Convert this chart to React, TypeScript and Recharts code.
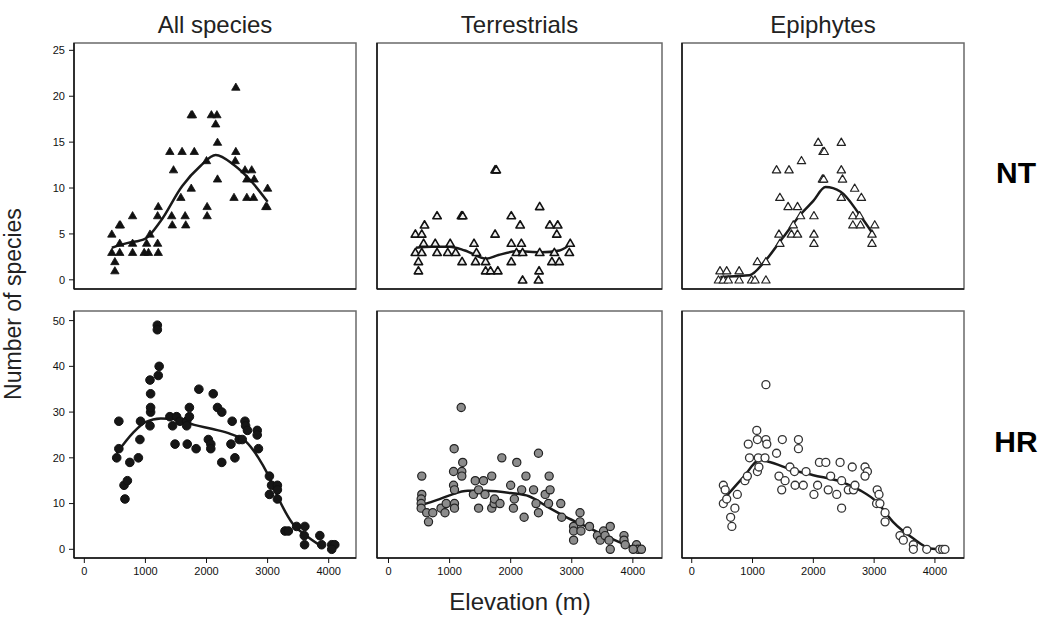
import React from "react";
import { ComposedChart, Scatter, Line, XAxis, YAxis, ReferenceArea } from "recharts";

type Pt = [number, number];

const FONT = "'Liberation Sans', Arial, sans-serif";

const COLUMNS = ["All species", "Terrestrials", "Epiphytes"];
const ROWS = ["NT", "HR"];
const ELEV_TICKS = [0, 1000, 2000, 3000, 4000];
const NT_TICKS = [0, 5, 10, 15, 20, 25];
const HR_TICKS = [0, 10, 20, 30, 40, 50];

// NT (top row) — elevation (m), number of species
const ntAll: Pt[] = [
  [450, 5], [450, 3], [580, 3], [500, 2], [500, 1], [575, 6], [590, 6], [580, 4],
  [790, 7], [790, 4], [790, 3], [980, 3], [1050, 3], [1020, 4], [1075, 5],
  [1210, 8], [1200, 7], [1200, 4], [1210, 3], [1400, 14], [1460, 12], [1430, 7], [1440, 6],
  [1600, 14], [1580, 9], [1650, 7], [1660, 6], [1750, 18], [1770, 18], [1800, 14], [1750, 10],
  [2000, 13], [2010, 8], [2010, 7], [2080, 18], [2170, 18], [2150, 17], [2180, 15], [2180, 11],
  [2480, 21], [2480, 14], [2470, 13], [2450, 9], [2630, 12], [2740, 12], [2660, 11], [2780, 11],
  [2660, 9], [2770, 9], [3000, 10], [2970, 8], [2990, 8],
];
const ntAllFit: Pt[] = [
  [450, 3.5], [700, 4.0], [1000, 4.5], [1250, 6.4], [1600, 10.2], [1900, 12.4],
  [2150, 13.6], [2450, 12.5], [2750, 10.6], [3000, 8.5],
];

const ntTerr: Pt[] = [
  [440, 5], [545, 5], [590, 6], [795, 7], [1195, 7], [1215, 7], [440, 3], [545, 3], [575, 4],
  [765, 4], [795, 3], [490, 2], [490, 1], [1010, 4], [970, 3], [1100, 3], [1205, 2], [1400, 4],
  [1440, 3], [1425, 2], [1590, 1], [1670, 1], [1790, 1], [1590, 2], [1745, 12], [1765, 12],
  [1745, 5], [2010, 7], [2155, 6], [2010, 4], [2175, 4], [2095, 3], [2195, 3], [2010, 2],
  [2195, 0], [2475, 8], [2475, 3], [2465, 1], [2455, 0], [2640, 6], [2770, 6], [2755, 5],
  [2675, 2], [2795, 2], [2715, 3], [2960, 3], [2975, 4],
];
const ntTerrFit: Pt[] = [
  [450, 3.5], [700, 3.6], [1000, 3.6], [1250, 3.2], [1600, 2.3], [1800, 2.7],
  [2100, 3.1], [2500, 3.0], [2800, 3.2], [3000, 4.0],
];

const ntEpi: Pt[] = [
  [465, 1], [575, 1], [780, 1], [440, 0], [520, 0], [600, 0], [780, 0], [985, 0], [1040, 0],
  [1220, 0], [1080, 2], [1220, 2], [1450, 4], [1435, 5], [1670, 6], [1640, 5], [1740, 5],
  [1790, 7], [1585, 8], [1740, 8], [1450, 9], [1395, 12], [1600, 12], [1805, 13], [2010, 7],
  [2010, 5], [2010, 4], [2080, 15], [2160, 14], [2180, 14], [2150, 11], [2170, 11], [2460, 15],
  [2460, 12], [2480, 11], [2460, 9], [2680, 10], [2790, 9], [2650, 7], [2760, 7], [2650, 6],
  [2775, 6], [3010, 6], [2965, 5], [2965, 4],
];
const ntEpiFit: Pt[] = [
  [470, 0.3], [700, 0.4], [950, 0.5], [1200, 2.0], [1500, 4.6], [1800, 7.2],
  [2000, 8.6], [2200, 10.1], [2450, 9.6], [2750, 7.2], [3000, 4.8],
];

// HR (bottom row)
const hrAll: Pt[] = [
  [530, 20], [565, 22], [565, 28], [650, 14], [705, 15], [665, 11], [745, 19], [885, 20],
  [910, 24], [920, 28], [1075, 27], [1085, 30], [1085, 31], [1085, 34], [1075, 37], [1195, 49],
  [1195, 48], [1225, 40], [1210, 38], [1400, 29], [1445, 27], [1485, 23], [1510, 29], [1565, 28],
  [1675, 28], [1675, 27], [1720, 31], [1720, 29], [1685, 23], [1830, 22], [1875, 35], [2030, 24],
  [2070, 23], [2070, 22], [2110, 34], [2180, 31], [2250, 30], [2250, 19], [2420, 28], [2400, 23],
  [2465, 20], [2535, 24], [2630, 28], [2640, 27], [2670, 26], [2585, 24], [2830, 26], [2830, 25],
  [2850, 22], [3030, 16], [3030, 12], [3065, 14], [3160, 14], [3160, 13], [3160, 11], [3285, 4],
  [3340, 4], [3475, 5], [3610, 5], [3600, 3], [3605, 1], [3855, 3], [3885, 1], [4050, 1],
  [4100, 1], [4050, 0],
];
const hrAllFit: Pt[] = [
  [530, 21], [800, 25.5], [1000, 27.8], [1250, 28.6], [1500, 28.5], [1800, 27.2],
  [2100, 26.3], [2400, 25.2], [2650, 23.5], [2850, 20], [3000, 16.5], [3200, 10.5],
  [3400, 5.8], [3650, 2.8], [3900, 0.5],
];

const hrTerr: Pt[] = [
  [545, 16], [545, 12], [535, 11], [535, 10], [535, 9], [625, 8], [655, 6], [725, 8], [860, 9],
  [925, 8], [945, 10], [1075, 22], [1065, 17], [1065, 14], [1080, 13], [1080, 10], [1080, 9],
  [1190, 31], [1215, 19], [1200, 17], [1200, 16], [1420, 15], [1555, 15], [1390, 12], [1475, 13],
  [1475, 9], [1580, 12], [1690, 16], [1690, 9], [1730, 10], [1735, 11], [1825, 10], [1855, 20],
  [2000, 14], [2045, 9], [2060, 11], [2100, 19], [2180, 13], [2220, 7], [2250, 16], [2375, 13],
  [2415, 10], [2455, 21], [2455, 8], [2565, 12], [2630, 16], [2645, 13], [2620, 10], [2820, 10],
  [2835, 7], [3030, 5], [3030, 4], [3030, 2], [3135, 8], [3135, 6], [3150, 4], [3290, 5],
  [3420, 3], [3465, 2], [3520, 4], [3545, 3], [3630, 5], [3610, 2], [3630, 0], [3855, 3],
  [3855, 2], [3875, 1], [4060, 1], [4085, 0], [4140, 0], [4005, 0],
];
const hrTerrFit: Pt[] = [
  [545, 9.7], [800, 10.8], [1000, 11.8], [1300, 12.8], [1600, 12.8], [2000, 12.3],
  [2300, 11.6], [2600, 9.3], [2900, 7.1], [3250, 4.9], [3570, 2.8], [3900, 0.9], [4120, 0],
];

const hrEpi: Pt[] = [
  [520, 14], [550, 13], [520, 10], [575, 11], [640, 7], [660, 5], [750, 12], [710, 9], [875, 15],
  [915, 16], [930, 23], [950, 20], [1070, 26], [1080, 24], [1080, 17], [1095, 20], [1105, 18],
  [1220, 36], [1220, 24], [1235, 23], [1205, 20], [1395, 21], [1435, 16], [1490, 24], [1535, 15],
  [1480, 13], [1615, 18], [1690, 17], [1700, 14], [1755, 24], [1755, 22], [1835, 14], [1880, 17],
  [2010, 12], [2070, 14], [2100, 19], [2205, 19], [2245, 13], [2285, 16], [2385, 12], [2440, 19],
  [2465, 15], [2465, 9], [2575, 13], [2640, 18], [2660, 13], [2685, 14], [2850, 18], [2890, 17],
  [2850, 16], [3050, 13], [3080, 12], [3040, 10], [3095, 10], [3180, 8], [3180, 6], [3425, 3],
  [3480, 2], [3545, 4], [3645, 1], [3645, 0], [3865, 0], [4080, 0], [4125, 0], [4165, 0],
];
const hrEpiFit: Pt[] = [
  [490, 10.4], [850, 15.8], [1120, 19.5], [1250, 19.2], [1670, 17.3], [2000, 16.2],
  [2470, 14.7], [2770, 12.9], [3040, 10.4], [3310, 6.0], [3640, 2.4], [3920, 0.2], [4140, 0],
];

// frame edges in page pixels, and matching axis domains
const COL_FRAMES = [[74, 356], [377, 662], [682, 964]];
const ROW_FRAMES = [[43, 289], [311, 558]];
const X_DOMAINS: [number, number][] = [[-169, 4447], [-188, 4477], [-160, 4478]];
const Y_DOMAINS: [number, number][] = [[-1, 25.8], [-1.9, 52.1]];

const toXY = (pts: Pt[]) => pts.map(([x, y]) => ({ x, y }));

const triangle = (fill: string, stroke: string, sw: number) => (p: any) => {
  const { cx, cy } = p;
  if (cx == null || cy == null) return <g />;
  return (
    <polygon
      points={`${cx},${cy - 4} ${cx + 4.2},${cy + 3.2} ${cx - 4.2},${cy + 3.2}`}
      fill={fill}
      stroke={stroke}
      strokeWidth={sw}
      strokeLinejoin="round"
    />
  );
};

const dot = (fill: string, stroke: string, sw: number, r: number) => (p: any) => {
  const { cx, cy } = p;
  if (cx == null || cy == null) return <g />;
  return <circle cx={cx} cy={cy} r={r} fill={fill} stroke={stroke} strokeWidth={sw} />;
};

const PANELS = [
  { row: 0, col: 0, pts: ntAll, fit: ntAllFit, shape: triangle("#111", "#111", 0.8) },
  { row: 0, col: 1, pts: ntTerr, fit: ntTerrFit, shape: triangle("#eee", "#111", 1.6) },
  { row: 0, col: 2, pts: ntEpi, fit: ntEpiFit, shape: triangle("#fff", "#222", 1.2) },
  { row: 1, col: 0, pts: hrAll, fit: hrAllFit, shape: dot("#161616", "#111", 1, 4.3) },
  { row: 1, col: 1, pts: hrTerr, fit: hrTerrFit, shape: dot("#8c8c8c", "#222", 1.2, 4.1) },
  { row: 1, col: 2, pts: hrEpi, fit: hrEpiFit, shape: dot("#fff", "#333", 1.3, 4) },
];

function Panel({ row, col, pts, fit, shape }: any) {
  const [fx0, fx1] = COL_FRAMES[col];
  const [fy0, fy1] = ROW_FRAMES[row];
  const xd = X_DOMAINS[col];
  const yd = Y_DOMAINS[row];
  const tickStyle = { fontSize: 11, fill: "#111", fontFamily: FONT };
  return (
    <div style={{ position: "absolute", left: fx0 - 50, top: fy0 - 6 }}>
      <ComposedChart
        width={fx1 - fx0 + 56}
        height={fy1 - fy0 + 36}
        margin={{ top: 6, right: 6, left: 0, bottom: 0 }}
      >
        <ReferenceArea
          x1={xd[0]}
          x2={xd[1]}
          y1={yd[0]}
          y2={yd[1]}
          fill="none"
          stroke="#6a6a6a"
          strokeWidth={1.5}
          ifOverflow="visible"
        />
        <XAxis
          type="number"
          dataKey="x"
          domain={xd}
          allowDataOverflow
          ticks={ELEV_TICKS}
          interval={0}
          height={30}
          tick={row === 1 ? tickStyle : false}
          tickSize={5}
          tickMargin={4}
          axisLine={{ stroke: "#111", strokeWidth: 1.5 }}
          tickLine={{ stroke: "#111" }}
        />
        <YAxis
          type="number"
          dataKey="y"
          domain={yd}
          allowDataOverflow
          ticks={row === 0 ? NT_TICKS : HR_TICKS}
          interval={0}
          width={50}
          tick={col === 0 ? tickStyle : false}
          tickSize={5}
          tickMargin={4}
          axisLine={{ stroke: "#111", strokeWidth: 1.5 }}
          tickLine={{ stroke: "#111" }}
        />
        <Scatter data={toXY(pts)} shape={shape} isAnimationActive={false} />
        <Line
          data={toXY(fit)}
          dataKey="y"
          type="monotone"
          stroke="#1a1a1a"
          strokeWidth={2.5}
          dot={false}
          activeDot={false}
          isAnimationActive={false}
        />
      </ComposedChart>
    </div>
  );
}

export default function App() {
  return (
    <div style={{ position: "absolute", left: 0, top: 0, width: 1040, height: 617, background: "#fff", fontFamily: FONT }}>
      {PANELS.map((p) => (
        <Panel key={`${p.row}-${p.col}`} {...p} />
      ))}
      <svg width={1040} height={617} style={{ position: "absolute", left: 0, top: 0, pointerEvents: "none" }}>
        {COLUMNS.map((t, i) => (
          <text
            key={t}
            x={(COL_FRAMES[i][0] + COL_FRAMES[i][1]) / 2}
            y={33}
            textAnchor="middle"
            fontSize={24}
            fill="#222"
            fontFamily={FONT}
          >
            {t}
          </text>
        ))}
        {ROWS.map((t, i) => (
          <text key={t} x={1016} y={i === 0 ? 183 : 452} textAnchor="middle" fontSize={30} fontWeight="bold" fill="#000" fontFamily={FONT}>
            {t}
          </text>
        ))}
        <text x={520} y={610} textAnchor="middle" fontSize={24} fill="#222" fontFamily={FONT}>
          Elevation (m)
        </text>
        <text
          x={0}
          y={0}
          transform="translate(21,304) rotate(-90)"
          textAnchor="middle"
          fontSize={23}
          fill="#222"
          fontFamily={FONT}
        >
          Number of species
        </text>
      </svg>
    </div>
  );
}
